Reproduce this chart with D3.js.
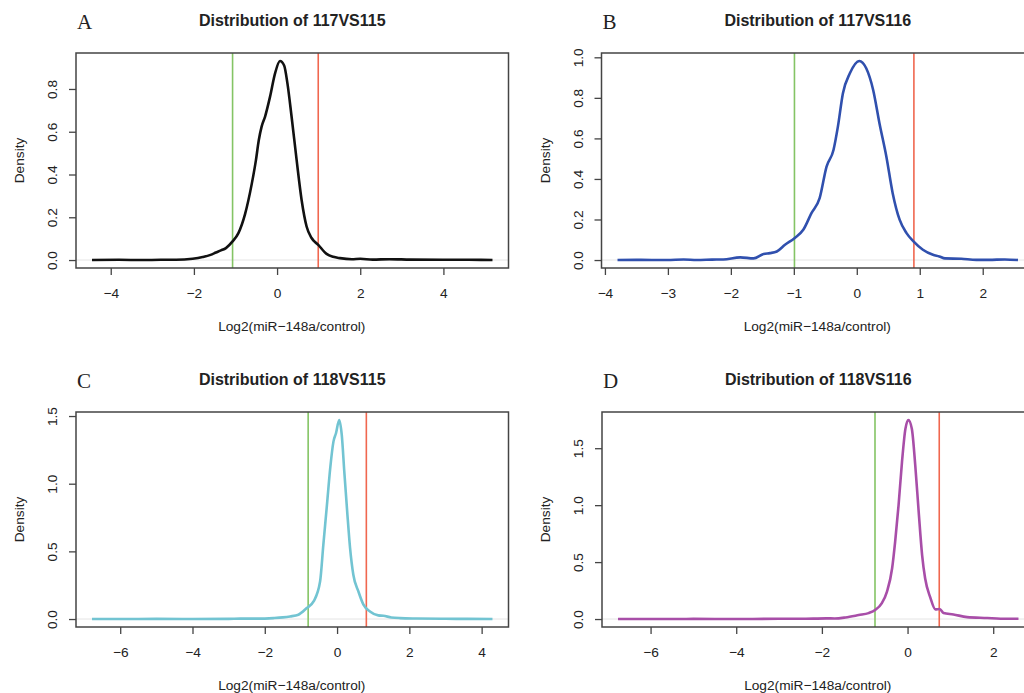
<!DOCTYPE html>
<html>
<head>
<meta charset="utf-8">
<script src="https://cdn.jsdelivr.net/npm/d3@7"></script>
<style>
  html, body { margin: 0; padding: 0; background: #fff; }
  svg { display: block; }
  text { font-family: "Liberation Sans", Arial, sans-serif; fill: #222; }
</style>
</head>
<body>
<svg id="chart" width="1024" height="693"></svg>
<script>
// ---------------- DATA ----------------
const panelLetters = ["A", "B", "C", "D"];
const panelTitles = ["Distribution of 117VS115", "Distribution of 117VS116", "Distribution of 118VS115", "Distribution of 118VS116"];
const xAxisTitle = "Log2(miR\u2212148a/control)";
const yAxisTitle = "Density";

const aX = [-4.45, -3.8, -3.23, -2.8, -2.43, -2.03, -1.79, -1.6, -1.47, -1.35, -1.23, -1.07, -0.93, -0.77, -0.61, -0.51, -0.44, -0.37, -0.29, -0.17, -0.05, 0.07, 0.17, 0.25, 0.35, 0.47, 0.59, 0.71, 0.83, 0.99, 1.19, 1.35, 1.51, 1.8, 2.0, 2.3, 2.7, 3.2, 4.0, 4.6, 5.18];
const aY = [0, 0.001, 0, 0.001, 0.001, 0.006, 0.014, 0.024, 0.035, 0.045, 0.056, 0.087, 0.126, 0.215, 0.355, 0.465, 0.56, 0.625, 0.67, 0.763, 0.872, 0.931, 0.910, 0.825, 0.669, 0.468, 0.281, 0.157, 0.103, 0.071, 0.029, 0.015, 0.009, 0.004, 0.006, 0.002, 0.004, 0.002, 0.001, 0.001, 0];

const bX = [-3.80, -3.5, -3.01, -2.75, -2.54, -2.3, -2.12, -1.85, -1.64, -1.48, -1.38, -1.27, -1.14, -0.99, -0.85, -0.72, -0.59, -0.48, -0.37, -0.30, -0.22, -0.11, 0.04, 0.15, 0.26, 0.36, 0.47, 0.57, 0.68, 0.79, 0.90, 1.05, 1.21, 1.31, 1.40, 1.66, 1.9, 2.1, 2.35, 2.56];
const bY = [0, 0.001, 0, 0.003, 0, 0.002, 0.003, 0.013, 0.008, 0.030, 0.034, 0.042, 0.075, 0.108, 0.149, 0.231, 0.305, 0.461, 0.543, 0.658, 0.823, 0.921, 0.982, 0.946, 0.839, 0.675, 0.510, 0.330, 0.199, 0.133, 0.092, 0.051, 0.026, 0.018, 0.008, 0.006, 0.001, 0.001, 0.003, 0];

const cX = [-6.78, -6, -5, -4, -3, -2.68, -2.2, -1.76, -1.5, -1.30, -1.07, -0.84, -0.65, -0.47, -0.38, -0.28, -0.19, -0.10, -0.03, 0.06, 0.13, 0.20, 0.28, 0.36, 0.45, 0.59, 0.73, 0.91, 1.14, 1.28, 1.5, 1.74, 2.2, 3.0, 3.6, 4.3];
const cY = [0, 0, 0.001, 0, 0.001, 0.003, 0.003, 0.007, 0.012, 0.019, 0.032, 0.081, 0.130, 0.277, 0.548, 0.843, 1.114, 1.311, 1.373, 1.471, 1.360, 1.089, 0.794, 0.524, 0.327, 0.204, 0.106, 0.056, 0.027, 0.024, 0.012, 0.007, 0.004, 0.002, 0.001, 0];

const dX = [-6.76, -6, -5, -4, -3, -2.5, -1.9, -1.7, -1.45, -1.14, -0.91, -0.75, -0.60, -0.48, -0.36, -0.29, -0.21, -0.13, -0.05, 0.02, 0.10, 0.18, 0.26, 0.34, 0.41, 0.53, 0.65, 0.75, 0.84, 1.07, 1.39, 1.86, 2.17, 2.59];
const dY = [0, 0, 0.001, 0, 0.002, 0.002, 0.006, 0.005, 0.014, 0.035, 0.052, 0.081, 0.140, 0.241, 0.446, 0.678, 0.999, 1.378, 1.670, 1.748, 1.670, 1.349, 0.941, 0.562, 0.358, 0.19, 0.085, 0.088, 0.052, 0.040, 0.017, 0.009, 0.003, 0.003];

const lowCut = [-1.07, -0.99, -0.80, -0.76];
const highCut = [0.99, 0.907, 0.81, 0.74];

const xTicksA = [-4, -2, 0, 2, 4];
const xTicksB = [-4, -3, -2, -1, 0, 1, 2];
const xTicksC = [-6, -4, -2, 0, 2, 4];
const xTicksD = [-6, -4, -2, 0, 2];
const yTicksA = [0, 0.2, 0.4, 0.6, 0.8];
const yTicksB = [0, 0.2, 0.4, 0.6, 0.8, 1.0];
const yTicksC = [0, 0.5, 1.0, 1.5];
const yTicksD = [0, 0.5, 1.0, 1.5];

// ---------------- STYLE / LAYOUT ----------------
const curveColors = ["#111111", "#3050ae", "#72c4d2", "#a84ea8"];
const lowColor = "#84c465";
const highColor = "#f0674f";
const frameColor = "#444";

const panels = [
  { xs: aX, ys: aY, xt: xTicksA, yt: yTicksA, left: 76, top: 53 },
  { xs: bX, ys: bY, xt: xTicksB, yt: yTicksB, left: 601.5, top: 53 },
  { xs: cX, ys: cY, xt: xTicksC, yt: yTicksC, left: 76, top: 412 },
  { xs: dX, ys: dY, xt: xTicksD, yt: yTicksD, left: 602, top: 412 }
];
const W = 432.5, H = 215;
const minus = s => String(s).replace("-", "\u2212");
const yFmt = d3.format(".1f");

const svg = d3.select("#chart");

panels.forEach((p, i) => {
  const ext = d3.extent(p.xs);
  const xr = ext[1] - ext[0];
  const ymax = d3.max(p.ys);
  const x = d3.scaleLinear().domain([ext[0] - 0.04 * xr, ext[1] + 0.04 * xr]).range([0, W]);
  const y = d3.scaleLinear().domain([-0.04 * ymax, ymax * 1.04]).range([H, 0]);

  const g = svg.append("g").attr("transform", `translate(${p.left},${p.top})`);

  g.append("clipPath").attr("id", "clip" + i)
    .append("rect").attr("x", 0).attr("y", 0).attr("width", W).attr("height", H);

  const inner = g.append("g").attr("clip-path", `url(#clip${i})`);

  // zero line
  inner.append("line")
    .attr("x1", 0).attr("x2", W)
    .attr("y1", y(0)).attr("y2", y(0))
    .attr("stroke", "#e4e4e4").attr("stroke-width", 1);

  // threshold lines
  inner.append("line")
    .attr("x1", x(lowCut[i])).attr("x2", x(lowCut[i]))
    .attr("y1", 0).attr("y2", H)
    .attr("stroke", lowColor).attr("stroke-width", 1.6);
  inner.append("line")
    .attr("x1", x(highCut[i])).attr("x2", x(highCut[i]))
    .attr("y1", 0).attr("y2", H)
    .attr("stroke", highColor).attr("stroke-width", 1.6);

  // density curve
  const pts = p.xs.map((v, k) => [v, p.ys[k]]);
  inner.append("path")
    .datum(pts)
    .attr("fill", "none")
    .attr("stroke", curveColors[i])
    .attr("stroke-width", 2.6)
    .attr("stroke-linejoin", "round")
    .attr("d", d3.line().x(d => x(d[0])).y(d => y(d[1])).curve(d3.curveMonotoneX));

  // frame
  g.append("rect")
    .attr("x", 0).attr("y", 0).attr("width", W).attr("height", H)
    .attr("fill", "none").attr("stroke", frameColor).attr("stroke-width", 1.5);

  // x axis
  const xa = g.append("g").attr("transform", `translate(0,${H})`)
    .call(d3.axisBottom(x).tickValues(p.xt).tickSize(7).tickSizeOuter(0).tickFormat(d => minus(d)));
  xa.select(".domain").remove();
  xa.selectAll("line").attr("stroke", frameColor).attr("stroke-width", 1.3);
  xa.selectAll("text").attr("font-size", "13.7px").attr("fill", "#222").attr("y", 0).attr("dy", "30px");

  // y axis
  const ya = g.append("g")
    .call(d3.axisLeft(y).tickValues(p.yt).tickSize(7).tickSizeOuter(0).tickFormat(yFmt));
  ya.select(".domain").remove();
  ya.selectAll("line").attr("stroke", frameColor).attr("stroke-width", 1.3);
  ya.selectAll("text")
    .attr("font-size", "13.7px").attr("fill", "#222")
    .attr("x", 0).attr("dy", 0)
    .attr("text-anchor", "middle")
    .attr("transform", "translate(-19,0) rotate(-90)");

  // axis titles
  g.append("text")
    .attr("x", W / 2 - 0.5).attr("y", H + 63)
    .attr("text-anchor", "middle").attr("font-size", "13.7px")
    .text(xAxisTitle);
  g.append("text")
    .attr("transform", `translate(-51.7,${H / 2}) rotate(-90)`)
    .attr("text-anchor", "middle").attr("font-size", "13.7px")
    .text(yAxisTitle);

  // title
  g.append("text")
    .attr("x", W / 2).attr("y", -27)
    .attr("text-anchor", "middle").attr("font-size", "16px").attr("font-weight", "bold")
    .attr("fill", "#111")
    .text(panelTitles[i]);

  // panel letter
  g.append("text")
    .attr("x", 1).attr("y", -24)
    .attr("font-size", "21px").attr("fill", "#444")
    .style("font-family", "'Liberation Serif', 'DejaVu Serif', serif")
    .text(panelLetters[i]);
});
</script>
</body>
</html>
